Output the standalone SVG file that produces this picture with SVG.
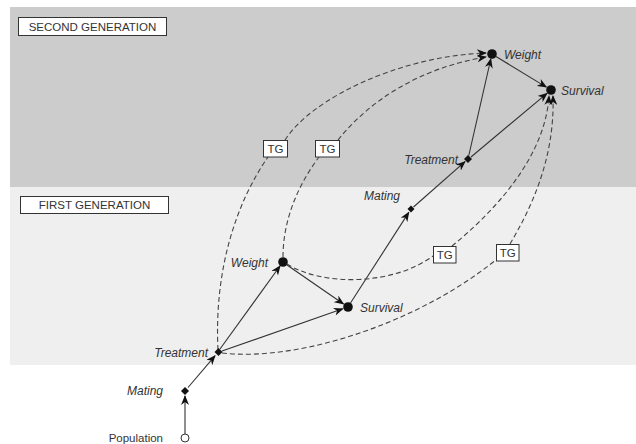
<svg xmlns="http://www.w3.org/2000/svg" width="636" height="444" viewBox="0 0 636 444">
<style>
.lbl{font-family:"Liberation Sans",Arial,sans-serif;font-size:12px;font-style:italic;fill:#333}
.reg{font-family:"Liberation Sans",Arial,sans-serif;font-size:11.5px;fill:#333}
.box{fill:#fff;stroke:#333;stroke-width:1}
.e{stroke:#333;stroke-width:1.1;fill:none}
.d{stroke:#444;stroke-width:1.1;fill:none;stroke-dasharray:5,3}
.n{fill:#111}
</style>
<defs>
<marker id="ah" viewBox="0 0 10 8" refX="9" refY="4" markerWidth="10" markerHeight="8" markerUnits="userSpaceOnUse" orient="auto">
<path d="M0,0 L10,4 L0,8 L3,4 z" fill="#111"/>
</marker>
</defs>
<rect x="10" y="7" width="626" height="180" fill="#cccccc"/>
<rect x="10" y="187" width="626" height="178" fill="#efefef"/>
<g id="gen2">
<rect class="box" x="18.5" y="17.5" width="148" height="18"/>
<text class="reg" x="92.5" y="30.5" text-anchor="middle" font-size="11">SECOND GENERATION</text>
</g>
<g id="gen1">
<rect class="box" x="20.5" y="196.5" width="148" height="17"/>
<text class="reg" x="94.5" y="209" text-anchor="middle" font-size="11">FIRST GENERATION</text>
</g>
<g id="connectors">
<line class="e" x1="185" y1="434" x2="185" y2="396" marker-end="url(#ah)"/>
<line class="e" x1="188" y1="387.5" x2="215" y2="355.8" marker-end="url(#ah)"/>
<line class="e" x1="220" y1="349" x2="280" y2="266" marker-end="url(#ah)"/>
<line class="e" x1="222" y1="351" x2="342.8" y2="308.8" marker-end="url(#ah)"/>
<line class="e" x1="287" y1="265" x2="343.5" y2="304" marker-end="url(#ah)"/>
<line class="e" x1="350.5" y1="303" x2="408.8" y2="212.4" marker-end="url(#ah)"/>
<line class="e" x1="413.5" y1="207" x2="465" y2="161.6" marker-end="url(#ah)"/>
<line class="e" x1="468.8" y1="155.5" x2="490.8" y2="59" marker-end="url(#ah)"/>
<line class="e" x1="471" y1="157" x2="547" y2="93.3" marker-end="url(#ah)"/>
<line class="e" x1="496" y1="56.5" x2="546.3" y2="87.1" marker-end="url(#ah)"/>
<path class="d" d="M218,350 C214,270 236,203 268,157"/>
<path class="d" d="M285,140 C312,98 400,56 486,53" marker-end="url(#ah)"/>
<path class="d" d="M283,257 C283,220 298,185 319,157"/>
<path class="d" d="M338,140 C370,100 420,68 486,57" marker-end="url(#ah)"/>
<path class="d" d="M287,264 C322,286 392,286 433,256"/>
<path class="d" d="M452,246 C490,215 545,160 549,96" marker-end="url(#ah)"/>
<path class="d" d="M222,353 C300,362 420,322 497,259"/>
<path class="d" d="M510,244 C530,210 555,160 553,96" marker-end="url(#ah)"/>
</g>
<g id="tg1"><rect class="box" x="263.5" y="140.5" width="24" height="16.5"/><text class="reg" x="275.5" y="153" text-anchor="middle" font-size="11">TG</text></g>
<g id="tg2"><rect class="box" x="315.5" y="140.5" width="24" height="16.5"/><text class="reg" x="327.5" y="153" text-anchor="middle" font-size="11">TG</text></g>
<g id="tg3"><rect class="box" x="433.5" y="246.5" width="22.5" height="16.5"/><text class="reg" x="444.8" y="259" text-anchor="middle" font-size="11">TG</text></g>
<g id="tg4"><rect class="box" x="496.5" y="244.5" width="22.5" height="16.5"/><text class="reg" x="507.8" y="257" text-anchor="middle" font-size="11">TG</text></g>
<g id="population"><circle cx="185" cy="438" r="4" fill="#fff" stroke="#333" stroke-width="1"/><text class="reg" x="163" y="442" text-anchor="end">Population</text></g>
<g id="mating1"><path class="n" d="M185,387 L189,391 L185,395 L181,391 z"/><text class="lbl" x="163" y="395" text-anchor="end" font-size="11">Mating</text></g>
<g id="treatment1"><path class="n" d="M218.5,348 L222.5,352 L218.5,356 L214.5,352 z"/><text class="lbl" x="208" y="357" text-anchor="end">Treatment</text></g>
<g id="weight1"><circle class="n" cx="283" cy="262" r="4.8"/><text class="lbl" x="268" y="266.5" text-anchor="end">Weight</text></g>
<g id="survival1"><circle class="n" cx="348" cy="307" r="4.8"/><text class="lbl" x="360" y="311.5">Survival</text></g>
<g id="mating2"><path class="n" d="M411,205.5 L414.5,209 L411,212.5 L407.5,209 z"/><text class="lbl" x="400" y="200" text-anchor="end" font-size="11.5">Mating</text></g>
<g id="treatment2"><path class="n" d="M468,155 L472,159 L468,163 L464,159 z"/><text class="lbl" x="458" y="163.5" text-anchor="end">Treatment</text></g>
<g id="weight2"><circle class="n" cx="492" cy="54" r="4.8"/><text class="lbl" x="504" y="58.5">Weight</text></g>
<g id="survival2"><circle class="n" cx="551" cy="90" r="4.8"/><text class="lbl" x="561" y="95">Survival</text></g>
</svg>
